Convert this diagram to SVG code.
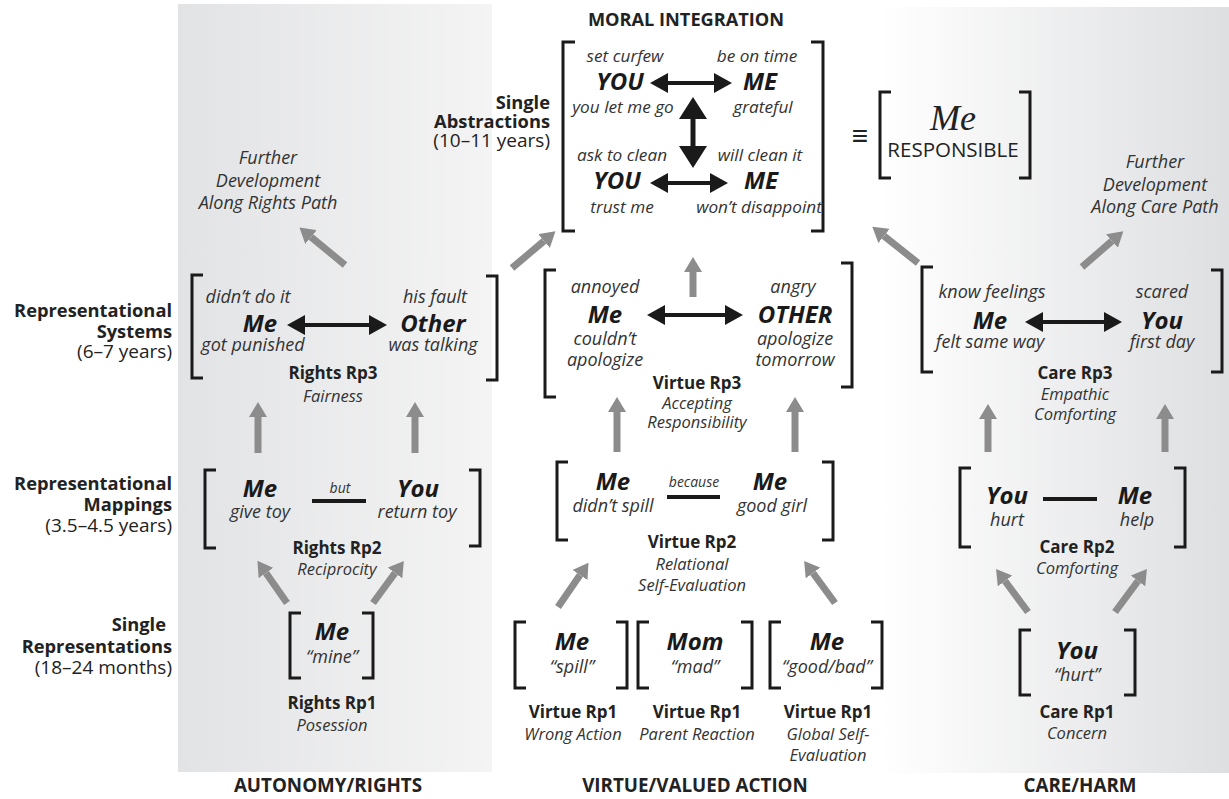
<svg xmlns="http://www.w3.org/2000/svg" width="1229" height="799" viewBox="0 0 1229 799">
  <defs>
    <linearGradient id="panelL" x1="0" y1="0" x2="1" y2="0">
      <stop offset="0" stop-color="#e2e3e5"/>
      <stop offset="1" stop-color="#f4f4f4"/>
    </linearGradient>
    <linearGradient id="panelR" x1="0" y1="0" x2="1" y2="0">
      <stop offset="0" stop-color="#ffffff"/>
      <stop offset="1" stop-color="#dedfe1"/>
    </linearGradient>
    <marker id="gh" markerUnits="userSpaceOnUse" markerWidth="16" markerHeight="18" refX="0" refY="9" orient="auto">
      <path d="M0,0 L15,9 L0,18 z" fill="#8c8c8c"/>
    </marker>
    <marker id="bh" markerUnits="userSpaceOnUse" markerWidth="18" markerHeight="20" refX="0" refY="10" orient="auto-start-reverse">
      <path d="M0,0 L18,10 L0,20 z" fill="#1a1a1a"/>
    </marker>
    <marker id="bhL" markerUnits="userSpaceOnUse" markerWidth="22" markerHeight="28" refX="0" refY="14" orient="auto-start-reverse">
      <path d="M0,0 L22,14 L0,28 z" fill="#1a1a1a"/>
    </marker>
  </defs>
  <style>
    text { font-family: "Open Sans", "Liberation Sans", sans-serif; fill: #222; }
    .lab { font-weight: bold; font-size: 18.3px; text-anchor: end; }
    .yrs { font-size: 19px; text-anchor: end; }
    .it { font-style: italic; font-size: 18px; text-anchor: middle; fill: #333; }
    .it2 { font-style: italic; font-size: 17.2px; text-anchor: middle; fill: #333; }
    .sm { font-style: italic; font-size: 14px; text-anchor: middle; fill: #333; }
    .big { font-style: italic; font-weight: bold; font-size: 24px; text-anchor: middle; fill: #1a1a1a; }
    .nm { font-weight: bold; font-size: 17px; text-anchor: middle; }
    .sub { font-style: italic; font-size: 16.5px; text-anchor: middle; fill: #333; }
    .hd { font-weight: bold; font-size: 18.8px; text-anchor: middle; }
    .br { fill: none; stroke: #1a1a1a; stroke-width: 3; }
    .ga { stroke: #8c8c8c; stroke-width: 7; fill: none; marker-end: url(#gh); }
    .ba { stroke: #1a1a1a; stroke-width: 4; fill: none; marker-start: url(#bh); marker-end: url(#bh); }
    .tie { stroke: #1a1a1a; stroke-width: 4; }
  </style>

  <!-- column backgrounds -->
  <rect x="178" y="4" width="314" height="768" fill="url(#panelL)"/>
  <rect x="880" y="7" width="349" height="766" fill="url(#panelR)"/>

  <!-- level labels -->
  <g id="levels">
    <text class="lab" x="550" y="109">Single</text>
    <text class="lab" x="550" y="128">Abstractions</text>
    <text class="yrs" x="550" y="147">(10–11 years)</text>
    <text class="lab" x="172" y="317">Representational</text>
    <text class="lab" x="172" y="338">Systems</text>
    <text class="yrs" x="172" y="358">(6–7 years)</text>
    <text class="lab" x="172" y="490">Representational</text>
    <text class="lab" x="172" y="511">Mappings</text>
    <text class="yrs" x="172" y="532">(3.5–4.5 years)</text>
    <text class="lab" x="166" y="631">Single</text>
    <text class="lab" x="172" y="653">Representations</text>
    <text class="yrs" x="172" y="674">(18–24  months)</text>
  </g>

  <!-- column titles -->
  <g id="titles">
    <text class="hd" x="686" y="26" style="font-size:18.2px">MORAL INTEGRATION</text>
    <text class="hd" x="328" y="792">AUTONOMY/RIGHTS</text>
    <text class="hd" x="695" y="792">VIRTUE/VALUED ACTION</text>
    <text class="hd" x="1080" y="792">CARE/HARM</text>
  </g>

  <!-- connectors -->
  <g id="connectors">
    <line class="ga" x1="345" y1="265" x2="311" y2="237"/>
    <line class="ga" x1="512" y1="268" x2="544" y2="241"/>
    <line class="ga" x1="693" y1="297" x2="693" y2="272"/>
    <line class="ga" x1="918" y1="263" x2="884" y2="236"/>
    <line class="ga" x1="1082" y1="267" x2="1112" y2="241"/>
    <line class="ga" x1="258" y1="453" x2="258" y2="417"/>
    <line class="ga" x1="415" y1="453" x2="415" y2="417"/>
    <line class="ga" x1="617" y1="452" x2="617" y2="412"/>
    <line class="ga" x1="795" y1="452" x2="795" y2="412"/>
    <line class="ga" x1="988" y1="452" x2="988" y2="419"/>
    <line class="ga" x1="1165" y1="452" x2="1165" y2="419"/>
    <line class="ga" x1="287" y1="603" x2="266" y2="573"/>
    <line class="ga" x1="373" y1="603" x2="395" y2="573"/>
    <line class="ga" x1="558" y1="607" x2="580" y2="575"/>
    <line class="ga" x1="835" y1="603" x2="813" y2="573"/>
    <line class="ga" x1="1028" y1="612" x2="1005" y2="581"/>
    <line class="ga" x1="1115" y1="612" x2="1138" y2="581"/>
  </g>

  <!-- moral integration -->
  <g id="integration">
    <path class="br" d="M575,42 H563 V231 H575 M811,42 H823 V231 H811"/>
    <text class="it2" x="625" y="62">set curfew</text>
    <text class="it2" x="757" y="62">be on time</text>
    <text class="big" x="620" y="90">YOU</text>
    <text class="big" x="760" y="90">ME</text>
    <line class="ba" x1="668" y1="83" x2="714" y2="83"/>
    <text class="it2" x="623" y="113">you let me go</text>
    <text class="it2" x="763" y="113">grateful</text>
    <line class="ba" x1="693" y1="119" x2="693" y2="146" style="marker-start:url(#bhL);marker-end:url(#bhL);stroke-width:5"/>
    <text class="it2" x="622" y="161">ask to clean</text>
    <text class="it2" x="760" y="161">will clean it</text>
    <text class="big" x="617" y="189">YOU</text>
    <text class="big" x="761" y="189">ME</text>
    <line class="ba" x1="668" y1="183" x2="710" y2="183"/>
    <text class="it2" x="622" y="213">trust me</text>
    <text class="it2" x="759" y="213">won’t disappoint</text>
  </g>

  <g id="responsible">
    <text x="860" y="145" style="font-size:28px;text-anchor:middle;fill:#222">≡</text>
    <path class="br" d="M891,92 H880 V178 H891 M1019,92 H1030 V178 H1019"/>
    <text x="953" y="130" style="font-family:'Liberation Serif',serif;font-style:italic;font-size:36px;text-anchor:middle;fill:#222">Me</text>
    <text x="953" y="157" style="font-size:20.5px;text-anchor:middle;fill:#222">RESPONSIBLE</text>
  </g>

  <g id="rights-further">
    <text class="it" x="268" y="164">Further</text>
    <text class="it" x="268" y="187">Development</text>
    <text class="it" x="268" y="209">Along Rights Path</text>
  </g>

  <g id="care-further">
    <text class="it" x="1155" y="168">Further</text>
    <text class="it" x="1155" y="191">Development</text>
    <text class="it" x="1155" y="213">Along Care Path</text>
  </g>

  <!-- autonomy / rights column -->
  <g id="rights-rp3">
    <path class="br" d="M203,275 H192 V378 H203 M486,276 H497 V380 H486"/>
    <text class="it" x="248" y="303">didn’t do it</text>
    <text class="big" x="260" y="332">Me</text>
    <text class="it" x="253" y="351">got punished</text>
    <text class="it" x="435" y="303">his fault</text>
    <text class="big" x="433" y="332">Other</text>
    <text class="it" x="433" y="351">was talking</text>
    <line class="ba" x1="305" y1="325" x2="369" y2="325"/>
    <text class="nm" x="333" y="379">Rights Rp3</text>
    <text class="sub" x="333" y="402">Fairness</text>
  </g>

  <g id="rights-rp2">
    <path class="br" d="M216,470 H205 V548 H216 M469,470 H480 V546 H469"/>
    <text class="big" x="260" y="497">Me</text>
    <text class="it" x="260" y="518">give toy</text>
    <text class="sm" x="340" y="493">but</text>
    <line class="tie" x1="312" y1="501" x2="366" y2="501"/>
    <text class="big" x="418" y="497">You</text>
    <text class="it" x="417" y="518">return toy</text>
    <text class="nm" x="337" y="554">Rights Rp2</text>
    <text class="sub" x="337" y="575">Reciprocity</text>
  </g>

  <g id="rights-rp1">
    <path class="br" d="M301,613 H290 V678 H301 M362,613 H373 V678 H362"/>
    <text class="big" x="332" y="640">Me</text>
    <text class="it" x="332" y="663">“mine”</text>
    <text class="nm" x="332" y="709">Rights Rp1</text>
    <text class="sub" x="332" y="731">Posession</text>
  </g>

  <!-- virtue / valued action column -->
  <g id="virtue-rp3">
    <path class="br" d="M556,270 H545 V397 H556 M841,263 H852 V387 H841"/>
    <text class="it" x="605" y="293">annoyed</text>
    <text class="big" x="605" y="323">Me</text>
    <text class="it" x="605" y="345">couldn’t</text>
    <text class="it" x="605" y="366">apologize</text>
    <text class="it" x="793" y="293">angry</text>
    <text class="big" x="795" y="323">OTHER</text>
    <text class="it" x="795" y="345">apologize</text>
    <text class="it" x="795" y="366">tomorrow</text>
    <line class="ba" x1="665" y1="315" x2="725" y2="315"/>
    <text class="nm" x="697" y="389">Virtue Rp3</text>
    <text class="sub" x="697" y="409">Accepting</text>
    <text class="sub" x="697" y="428">Responsibility</text>
  </g>

  <g id="virtue-rp2">
    <path class="br" d="M568,462 H557 V540 H568 M822,462 H833 V540 H822"/>
    <text class="big" x="613" y="490">Me</text>
    <text class="it" x="613" y="512">didn’t spill</text>
    <text class="sm" x="694" y="487">because</text>
    <line class="tie" x1="667" y1="497" x2="720" y2="497"/>
    <text class="big" x="770" y="490">Me</text>
    <text class="it" x="772" y="512">good girl</text>
    <text class="nm" x="692" y="548">Virtue Rp2</text>
    <text class="sub" x="692" y="570">Relational</text>
    <text class="sub" x="692" y="591">Self-Evaluation</text>
  </g>

  <g id="virtue-rp1-action">
    <path class="br" d="M526,622 H515 V688 H526 M616,622 H627 V688 H616"/>
    <text class="big" x="572" y="650">Me</text>
    <text class="it" x="572" y="673">“spill”</text>
    <text class="nm" x="573" y="718">Virtue Rp1</text>
    <text class="sub" x="573" y="740">Wrong Action</text>
  </g>

  <g id="virtue-rp1-parent">
    <path class="br" d="M649,622 H638 V688 H649 M741,622 H752 V688 H741"/>
    <text class="big" x="695" y="650">Mom</text>
    <text class="it" x="695" y="673">“mad”</text>
    <text class="nm" x="697" y="718">Virtue Rp1</text>
    <text class="sub" x="697" y="740">Parent Reaction</text>
  </g>

  <g id="virtue-rp1-global">
    <path class="br" d="M781,622 H770 V688 H781 M871,622 H882 V688 H871"/>
    <text class="big" x="827" y="650">Me</text>
    <text class="it" x="827" y="673">“good/bad”</text>
    <text class="nm" x="828" y="718">Virtue Rp1</text>
    <text class="sub" x="828" y="740">Global Self-</text>
    <text class="sub" x="828" y="761">Evaluation</text>
  </g>

  <!-- care / harm column -->
  <g id="care-rp3">
    <path class="br" d="M933,267 H922 V372 H933 M1211,270 H1222 V372 H1211"/>
    <text class="it" x="992" y="298">know feelings</text>
    <text class="big" x="990" y="329">Me</text>
    <text class="it" x="990" y="348">felt same way</text>
    <text class="it" x="1162" y="298">scared</text>
    <text class="big" x="1162" y="329">You</text>
    <text class="it" x="1162" y="348">first day</text>
    <line class="ba" x1="1043" y1="322" x2="1104" y2="322"/>
    <text class="nm" x="1075" y="379">Care Rp3</text>
    <text class="sub" x="1075" y="400">Empathic</text>
    <text class="sub" x="1075" y="420">Comforting</text>
  </g>

  <g id="care-rp2">
    <path class="br" d="M971,468 H960 V547 H971 M1174,468 H1185 V547 H1174"/>
    <text class="big" x="1007" y="504">You</text>
    <text class="it" x="1007" y="526">hurt</text>
    <line class="tie" x1="1043" y1="499" x2="1097" y2="499"/>
    <text class="big" x="1135" y="504">Me</text>
    <text class="it" x="1137" y="526">help</text>
    <text class="nm" x="1077" y="553">Care Rp2</text>
    <text class="sub" x="1077" y="574">Comforting</text>
  </g>

  <g id="care-rp1">
    <path class="br" d="M1031,630 H1020 V695 H1031 M1124,630 H1135 V695 H1124"/>
    <text class="big" x="1077" y="659">You</text>
    <text class="it" x="1077" y="681">“hurt”</text>
    <text class="nm" x="1077" y="718">Care Rp1</text>
    <text class="sub" x="1077" y="739">Concern</text>
  </g>
</svg>
